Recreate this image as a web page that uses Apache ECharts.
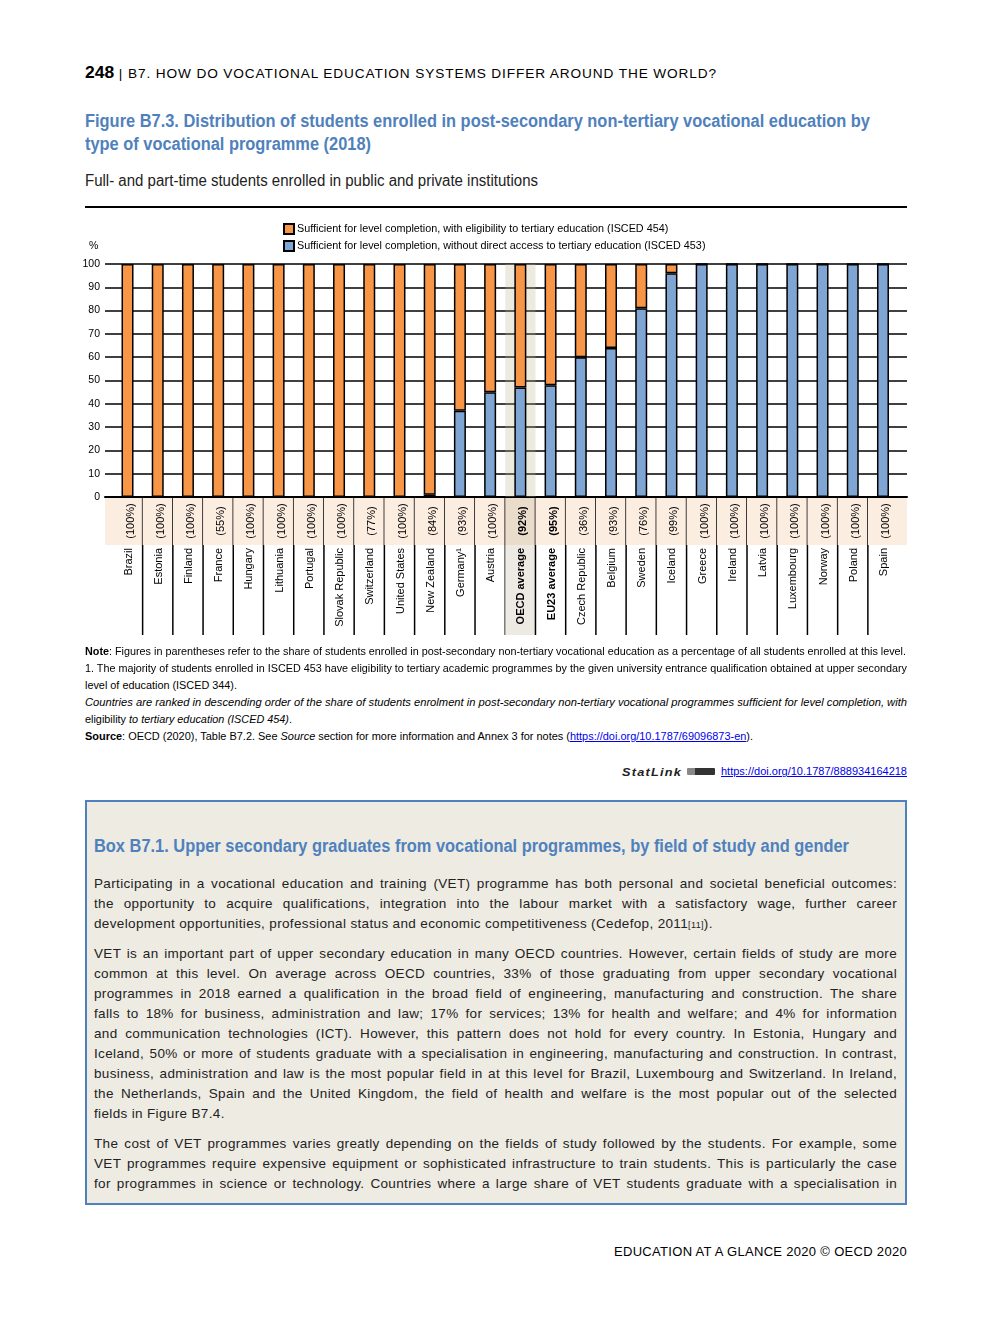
<!DOCTYPE html>
<html>
<head>
<meta charset="utf-8">
<script src="https://cdn.jsdelivr.net/npm/echarts@6/dist/echarts.min.js"></script>
<style>
  html, body { margin:0; padding:0; background:#fff; }
  body { width:992px; height:1323px; position:relative; overflow:hidden; font-family:"Liberation Sans", Arial, sans-serif; color:#000; }
  .ln { position:absolute; white-space:nowrap; }
  .ln > span { display:inline-block; white-space:nowrap; transform-origin:0 50%; }
  #chart { position:absolute; left:0; top:210px; width:992px; height:440px; }
  .box { position:absolute; left:85px; top:800px; width:818px; height:401px; border:2px solid #4F81BD; background:#EEEBE3; }
  a { color:#0000EE; text-decoration:underline; }
</style>
</head>
<body>

<div class="ln" style="left:85px;top:63px;font-size:12.5px;line-height:20px;letter-spacing:0.8px;color:#000" data-w="632"><span><b style="font-size:16px;letter-spacing:0">248</b> | B7. HOW DO VOCATIONAL EDUCATION SYSTEMS DIFFER AROUND THE WORLD?</span></div>

<div class="ln" style="left:85px;top:110px;font-size:18px;line-height:22px;font-weight:bold;color:#4F81BD" data-w="785"><span>Figure B7.3. Distribution of students enrolled in post-secondary non-tertiary vocational education by</span></div>
<div class="ln" style="left:85px;top:133px;font-size:18px;line-height:22px;font-weight:bold;color:#4F81BD" data-w="286"><span>type of vocational programme (2018)</span></div>

<div class="ln" style="left:85px;top:171px;font-size:16px;line-height:20px;color:#222" data-w="453"><span>Full- and part-time students enrolled in public and private institutions</span></div>

<div style="position:absolute;left:85px;top:206px;width:822px;height:2px;background:#000"></div>

<div id="chart"></div>

<div class="ln" style="left:85px;top:644px;font-size:10px;line-height:16px" data-w="821"><span><b>Note</b>: Figures in parentheses refer to the share of students enrolled in post-secondary non-tertiary vocational education as a percentage of all students enrolled at this level.</span></div>
<div class="ln" style="left:85px;top:661px;font-size:10px;line-height:16px" data-w="822"><span>1. The majority of students enrolled in ISCED 453 have eligibility to tertiary academic programmes by the given university entrance qualification obtained at upper secondary</span></div>
<div class="ln" style="left:85px;top:678px;font-size:10px;line-height:16px" data-w="152"><span>level of education (ISCED 344).</span></div>
<div class="ln" style="left:85px;top:695px;font-size:10px;line-height:16px;font-style:italic" data-w="822"><span>Countries are ranked in descending order of the share of students enrolment in post-secondary non-tertiary vocational programmes sufficient for level completion, with</span></div>
<div class="ln" style="left:85px;top:712px;font-size:10px;line-height:16px" data-w="207"><span>eligibility <i>to tertiary education (ISCED 454)</i>.</span></div>
<div class="ln" style="left:85px;top:729px;font-size:10px;line-height:16px" data-w="668"><span><b>Source</b>: OECD (2020), Table B7.2. See <i>Source</i> section for more information and Annex 3 for notes (<a>https://doi.org/10.1787/69096873-en</a>).</span></div>

<div class="ln" style="left:622px;top:764px;font-size:10.5px;line-height:16px;font-weight:bold;font-style:italic;letter-spacing:1px;color:#222" data-w="60"><span>StatLink</span></div>
<div style="position:absolute;left:687px;top:768px;width:28px;height:7px;background:linear-gradient(90deg,#888 0,#888 30%,#333 30%,#333 100%);border-radius:1px"></div>
<div class="ln" style="left:721px;top:764px;font-size:10px;line-height:16px" data-w="186"><span><a>https://doi.org/10.1787/888934164218</a></span></div>

<div class="box"></div>
<div class="ln" style="left:94px;top:835px;font-size:18px;line-height:22px;font-weight:bold;color:#4F81BD" data-w="755"><span>Box B7.1. Upper secondary graduates from vocational programmes, by field of study and gender</span></div>

<div id="para"></div>

<div class="ln" style="left:614px;top:1243px;font-size:12.5px;line-height:18px;letter-spacing:0.3px" data-w="293"><span>EDUCATION AT A GLANCE 2020 © OECD 2020</span></div>

<script>
// ---------------- DATA ----------------
const categories = ['Brazil','Estonia','Finland','France','Hungary','Lithuania','Portugal','Slovak Republic','Switzerland','United States','New Zealand','Germany\u00B9','Austria','OECD average','EU23 average','Czech Republic','Belgium','Sweden','Iceland','Greece','Ireland','Latvia','Luxembourg','Norway','Poland','Spain'];
const vocShare = [100,100,100,55,100,100,100,100,77,100,84,93,100,92,95,36,93,76,99,100,100,100,100,100,100,100];
const isced453 = [0,0,0,0,0,0,0,0,0,0,1,37,45,47,48,60,64,81,96,100,100,100,100,100,100,100];
const isced454 = [100,100,100,100,100,100,100,100,100,100,99,63,55,53,52,40,36,19,4,0,0,0,0,0,0,0];
const seriesNames = ['Sufficient for level completion, with eligibility to tertiary education (ISCED 454)',
                     'Sufficient for level completion, without direct access to tertiary education (ISCED 453)'];
const yMin = 0, yMax = 100, yStep = 10;

// ---------------- BOX TEXT ----------------
const paragraphs = [
  { y: 884, lines: [
    'Participating in a vocational education and training (VET) programme has both personal and societal beneficial outcomes:',
    'the opportunity to acquire qualifications, integration into the labour market with a satisfactory wage, further career',
    'development opportunities, professional status and economic competitiveness (Cedefop, 2011<span style="font-size:9px">[11]</span>).'], lastFull:false },
  { y: 954, lines: [
    'VET is an important part of upper secondary education in many OECD countries. However, certain fields of study are more',
    'common at this level. On average across OECD countries, 33% of those graduating from upper secondary vocational',
    'programmes in 2018 earned a qualification in the broad field of engineering, manufacturing and construction. The share',
    'falls to 18% for business, administration and law; 17% for services; 13% for health and welfare; and 4% for information',
    'and communication technologies (ICT). However, this pattern does not hold for every country. In Estonia, Hungary and',
    'Iceland, 50% or more of students graduate with a specialisation in engineering, manufacturing and construction. In contrast,',
    'business, administration and law is the most popular field in at this level for Brazil, Luxembourg and Switzerland. In Ireland,',
    'the Netherlands, Spain and the United Kingdom, the field of health and welfare is the most popular out of the selected',
    'fields in Figure B7.4.'], lastFull:false },
  { y: 1144, lines: [
    'The cost of VET programmes varies greatly depending on the fields of study followed by the students. For example, some',
    'VET programmes require expensive equipment or sophisticated infrastructure to train students. This is particularly the case',
    'for programmes in science or technology. Countries where a large share of VET students graduate with a specialisation in'], lastFull:true }
];
const para = document.getElementById('para');
paragraphs.forEach(p => {
  p.lines.forEach((t, k) => {
    const d = document.createElement('div');
    d.className = 'ln';
    d.style.cssText = 'left:94px;top:' + (p.y + k*20 - 9) + 'px;font-size:13.5px;line-height:18px;letter-spacing:0.35px;color:#222';
    const full = (k < p.lines.length - 1) || p.lastFull;
    if (full) { d.dataset.w = 803; d.dataset.mode = 'justify'; }
    d.innerHTML = '<span>' + t + '</span>';
    para.appendChild(d);
  });
});

function fitLines() {
  document.querySelectorAll('[data-w]').forEach(el => {
    const w = +el.dataset.w;
    const inner = el.firstElementChild;
    const nat = inner.getBoundingClientRect().width;
    if (el.dataset.mode === 'justify' && nat < w) {
      el.style.width = w + 'px';
      el.style.whiteSpace = 'normal';
      el.style.textAlign = 'justify';
      el.style.textAlignLast = 'justify';
      inner.style.display = 'inline';
      inner.style.whiteSpace = 'normal';
    } else if (nat > 0) {
      inner.style.transform = 'scaleX(' + (w / nat) + ')';
    }
  });
}
fitLines();

// ---------------- CHART ----------------
const ORANGE = '#F79646', BLUE = '#7FA5D2';
const FONT = '"Liberation Sans", Arial, sans-serif';
const avgCats = ['OECD average', 'EU23 average'];
const chart = echarts.init(document.getElementById('chart'), null, { renderer: 'canvas' });

const option = {
  animation: false,
  textStyle: { fontFamily: FONT },
  legend: {
    data: [seriesNames[0], seriesNames[1]],
    orient: 'vertical', left: 283, top: 13, padding: 0,
    itemWidth: 10, itemHeight: 10, itemGap: 5, icon: 'rect',
    textStyle: { fontSize: 10.8, color: '#000', fontFamily: FONT, padding: [0, 0, 0, -2] },
    selectedMode: false
  },
  graphic: [{ type: 'text', left: 89, top: 31, style: { text: '%', fontSize: 10.5, fill: '#000', fontFamily: FONT } }],
  grid: { left: 105, right: 85, top: 54, bottom: 153, containLabel: false },
  xAxis: {
    type: 'value', min: -0.745, max: 25.795,
    axisLine: { show: true, onZero: false, lineStyle: { color: '#000', width: 2 } },
    axisTick: { show: false }, axisLabel: { show: false }, splitLine: { show: false }
  },
  yAxis: {
    type: 'value', min: yMin, max: yMax, interval: yStep,
    axisLine: { show: false }, axisTick: { show: false },
    axisLabel: { fontSize: 10.5, color: '#000', margin: 5, fontFamily: FONT },
    splitLine: { lineStyle: { color: '#000', width: 1.5 } }
  },
  series: [
    {
      type: 'custom', z: 1, clip: false, silent: true,
      data: categories.map((c, i) => [i]),
      encode: { x: 0 },
      renderItem: function (params, api) {
        const i = api.value(0);
        const base = api.coord([i, yMin]);
        const top = api.coord([i, yMax]);
        const cw = api.size([1, 0])[0];
        const cx = base[0], y0 = base[1];
        const cs = params.coordSys;
        const isAvg = avgCats.indexOf(categories[i]) >= 0;
        const isOecd = categories[i] === 'OECD average';
        let x1 = cx - cw / 2, x2 = cx + cw / 2;
        if (i === 0) x1 = cs.x;
        if (i === categories.length - 1) x2 = cs.x + cs.width;
        const ch = [];
        ch.push({ type: 'rect', shape: { x: x1, y: y0 + 1, width: x2 - x1, height: 47 }, style: { fill: isOecd ? '#EADCCB' : '#FCEDE1' } });
        if (isOecd) {
          ch.push({ type: 'rect', shape: { x: cx - cw / 2, y: top[1], width: cw, height: y0 - top[1] }, style: { fill: 'rgba(190,178,140,0.27)' } });
          ch.push({ type: 'rect', shape: { x: cx - cw / 2, y: y0 + 48, width: cw, height: 90 }, style: { fill: '#EDEAE3' } });
        }
        if (i < categories.length - 1) {
          ch.push({ type: 'line', shape: { x1: cx + cw / 2, y1: y0, x2: cx + cw / 2, y2: y0 + 138 }, style: { stroke: '#000', lineWidth: 1.5 } });
        }
        const w = isAvg ? 'bold ' : '';
        ch.push({ type: 'text', x: cx + 3, y: y0 + 24, rotation: Math.PI / 2,
          style: { text: '(' + vocShare[i] + '%)', x: 0, y: 0, align: 'center', verticalAlign: 'middle', font: w + '11px ' + FONT, fill: '#000' } });
        ch.push({ type: 'text', x: cx + 1, y: y0 + 51, rotation: Math.PI / 2,
          style: { text: categories[i], x: 0, y: 0, align: 'right', verticalAlign: 'middle', font: w + '11px ' + FONT, fill: '#000' } });
        return { type: 'group', children: ch };
      }
    },
    {
      // value first so that the stack runs along y; x (category position) second
      name: seriesNames[1], type: 'bar', stack: 'total', z: 2, barWidth: 12,
      data: isced453.map((v, i) => [v, i]),
      encode: { x: 1, y: 0 },
      itemStyle: { color: BLUE, borderColor: '#000', borderWidth: 1.5 }
    },
    {
      name: seriesNames[0], type: 'bar', stack: 'total', z: 2, barWidth: 12,
      data: isced454.map((v, i) => [v, i]),
      encode: { x: 1, y: 0 },
      itemStyle: { color: ORANGE, borderColor: '#000', borderWidth: 1.5 }
    }
  ]
};
chart.setOption(option);
</script>
</body>
</html>
